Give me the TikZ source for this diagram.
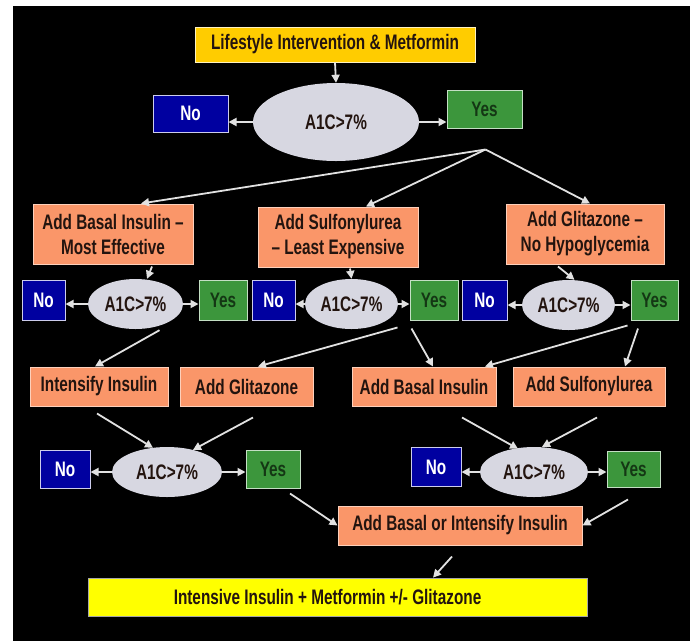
\documentclass[tikz,border=0pt]{standalone}
\usepackage{fontspec}
\setmainfont{Liberation Sans}[FakeStretch=0.73]
\definecolor{startgold}{RGB}{255, 204, 0}
\definecolor{goalyellow}{RGB}{255, 255, 0}
\definecolor{stepsalmon}{RGB}{250, 150, 105}
\definecolor{noblue}{RGB}{0, 0, 160}
\definecolor{yesgreen}{RGB}{60, 150, 60}
\definecolor{yestext}{RGB}{20, 55, 20}
\definecolor{ovalgray}{RGB}{215, 215, 225}
\definecolor{boxtext}{RGB}{35, 20, 15}
\definecolor{flowgray}{RGB}{225, 225, 225}
\usetikzlibrary{shapes.geometric, arrows.meta, calc}

\begin{document}
\begin{tikzpicture}[x=1pt, y=-1pt,
  every node/.style={font=\bfseries\fontsize{21}{25}\selectfont, inner sep=0pt, align=center},
  startbox/.style={draw=white!75!startgold, line width=1pt, fill=startgold, text=boxtext},
  goalbox/.style={draw=gray!70, line width=0.8pt, fill=goalyellow, text=boxtext},
  stepbox/.style={draw=white!55!stepsalmon, line width=1pt, fill=stepsalmon, text=boxtext},
  nobox/.style={draw=white!80!noblue, line width=1pt, fill=noblue, text=white},
  yesbox/.style={draw=white!70!yesgreen, line width=1pt, fill=yesgreen, text=yestext},
  oval/.style={ellipse, fill=ovalgray, text=boxtext},
  flow/.style={draw=flowgray, line width=1.8pt, -{Triangle[length=8pt, width=8pt]}}]

  \fill[white] (0,0) rectangle (690,641);
  \fill[black] (13,6) rectangle (690,641);

  \node[startbox, minimum width=280pt, minimum height=35pt] (start) at (335,44.5) {Lifestyle Intervention \& Metformin};
  \node[oval, minimum width=166pt, minimum height=78pt] (test0) at (336,122) {A1C>7\%};
  \node[nobox, minimum width=75pt, minimum height=37pt] (no0) at (190.5,113.5) {No};
  \node[yesbox, minimum width=75pt, minimum height=38pt] (yes0) at (484.5,109) {Yes};
  \coordinate (fan) at ($(yes0.south)+(1,21)$);

  \node[stepbox, minimum width=160pt, minimum height=60pt] (basal) at (113,234) {Add Basal Insulin --\\Most Effective};
  \node[stepbox, minimum width=160pt, minimum height=60pt] (sulf) at (338,237) {Add Sulfonylurea\\-- Least Expensive};
  \node[stepbox, minimum width=158pt, minimum height=60pt] (glit) at (585,234) {Add Glitazone --\\No Hypoglycemia};

  \node[nobox, minimum width=43pt, minimum height=40pt] (no1) at (43.5,300) {No};
  \node[oval, minimum width=95pt, minimum height=50pt] (test1) at (135.5,304) {A1C>7\%};
  \node[yesbox, minimum width=48pt, minimum height=40pt] (yes1) at (223,300) {Yes};
  \node[nobox, minimum width=43pt, minimum height=40pt] (no2) at (273.5,300) {No};
  \node[oval, minimum width=93pt, minimum height=50pt] (test2) at (351.5,304) {A1C>7\%};
  \node[yesbox, minimum width=48pt, minimum height=40pt] (yes2) at (434,300) {Yes};
  \node[nobox, minimum width=45pt, minimum height=40pt] (no3) at (484.5,300) {No};
  \node[oval, minimum width=93pt, minimum height=50pt] (test3) at (568.5,305) {A1C>7\%};
  \node[yesbox, minimum width=47pt, minimum height=40pt] (yes3) at (654.5,300) {Yes};

  \node[stepbox, minimum width=138pt, minimum height=39pt] (intens) at (99,386.5) {Intensify Insulin};
  \node[stepbox, minimum width=133pt, minimum height=39pt] (addglit) at (246.5,386.5) {Add Glitazone};
  \node[stepbox, minimum width=144pt, minimum height=39pt] (addbasal) at (424,386.5) {Add Basal Insulin};
  \node[stepbox, minimum width=152pt, minimum height=39pt] (addsulf) at (589,386.5) {Add Sulfonylurea};

  \node[nobox, minimum width=50pt, minimum height=38pt] (no4) at (65,469) {No};
  \node[oval, minimum width=110pt, minimum height=50pt] (test4) at (167,472) {A1C>7\%};
  \node[yesbox, minimum width=54pt, minimum height=38pt] (yes4) at (273,469) {Yes};
  \node[nobox, minimum width=50pt, minimum height=39pt] (no5) at (436,467) {No};
  \node[oval, minimum width=108pt, minimum height=50pt] (test5) at (534,472) {A1C>7\%};
  \node[yesbox, minimum width=53pt, minimum height=36pt] (yes5) at (633.5,469) {Yes};

  \node[stepbox, minimum width=244pt, minimum height=39pt] (addor) at (460,525.5) {Add Basal or Intensify Insulin};
  \node[goalbox, minimum width=499pt, minimum height=38pt] (goal) at (337.5,597) {Intensive Insulin + Metformin +/- Glitazone\hspace{20pt}};

  \draw[flow] (start.south) -- (test0.north);
  \foreach \i in {0,...,5} {
    \draw[flow] (test\i.west) -- (test\i.west -| no\i.east);
    \draw[flow] (test\i.east) -- (test\i.east -| yes\i.west);
  }

  \draw[flow] (fan) -- ($(basal.north)+(28,0)$);
  \draw[flow] (fan) -- ($(sulf.north)+(28,0)$);
  \draw[flow] (fan) -- ($(glit.north)+(5,0)$);

  \draw[flow] ($(basal.south)+(39,2)$) -- ($(test1.north)+(11.5,0)$);
  \draw[flow] ($(sulf.south)+(12,1)$) -- (test2.north);
  \draw[flow] ($(glit.south)+(-27,2)$) -- ($(test3.north)+(6,0)$);

  \draw[flow] ($(test1.south)+(24,1)$) -- ($(intens.north)+(-4,0)$);
  \draw[flow] ($(yes2.south west)+(-12,7)$) -- ($(addglit.north)+(11.5,0)$);
  \draw[flow] ($(yes2.south west)+(2,8)$) -- ($(addbasal.north)+(9,0)$);
  \draw[flow] ($(yes3.south west)+(-3,5)$) -- ($(addbasal.north)+(61,0)$);
  \draw[flow] ($(yes3.south)+(-16.5,8)$) -- ($(addsulf.north)+(36,0)$);

  \draw[flow] ($(intens.south)+(-2,7)$) -- ($(test4.north)+(-14,1)$);
  \draw[flow] ($(addglit.south)+(6.5,11)$) -- ($(test4.north)+(26,3)$);
  \draw[flow] ($(addbasal.south)+(38,11)$) -- ($(test5.north)+(-16,2)$);
  \draw[flow] ($(addsulf.south)+(8,11)$) -- ($(test5.north)+(8,0)$);

  \draw[flow] ($(yes4.south)+(17,5)$) -- (addor.west);
  \draw[flow] ($(yes5.south)+(-5.5,12)$) -- (addor.east);
  \draw[flow] ($(addor.south)+(-8,11)$) -- ($(goal.north)+(95.5,0)$);
\end{tikzpicture}
\end{document}
